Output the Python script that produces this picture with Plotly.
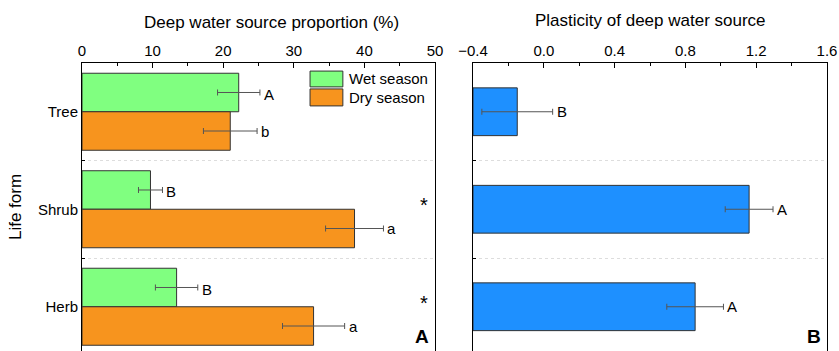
import plotly.graph_objects as go

# ---- data ----
life_forms = ["Tree", "Shrub", "Herb"]
wet_prop = [22.2, 9.7, 13.4]
wet_se = [3.0, 1.7, 3.0]
dry_prop = [21.0, 38.6, 32.8]
dry_se = [3.8, 4.1, 4.4]
wet_letters = ["A", "B", "B"]
dry_letters = ["b", "a", "a"]
sig_marks = ["", "*", "*"]

plasticity = [-0.15, 1.16, 0.855]
plasticity_se = [0.2, 0.135, 0.16]
plasticity_letters = ["B", "A", "A"]
plasticity_base = -0.4

season_names = ["Wet season", "Dry season"]
x1_ticks = [0, 10, 20, 30, 40, 50]
x2_ticks = [-0.4, 0.0, 0.4, 0.8, 1.2, 1.6]

FONT = "Arial, Liberation Sans, sans-serif"
GREEN = "#80FF80"
ORANGE = "#F7941E"
BLUE = "#1E90FF"
EDGE = "#333333"
ERR = "#555555"

W, H = 839, 351
TOP = 63
domA = [82 / W, 435 / W]
domB = [473 / W, 827 / W]
band = 97.5
plot_h = H - TOP
y_range = [-0.5 + plot_h / band, -0.5]

fig = go.Figure()

fig.add_trace(go.Bar(
    y=life_forms, x=wet_prop, orientation="h", name=season_names[0],
    marker=dict(color=GREEN, line=dict(color=EDGE, width=1)),
    error_x=dict(type="data", array=wet_se, color=ERR, thickness=1, width=3),
    xaxis="x", yaxis="y", showlegend=False, offsetgroup="wet"))
fig.add_trace(go.Bar(
    y=life_forms, x=dry_prop, orientation="h", name=season_names[1],
    marker=dict(color=ORANGE, line=dict(color=EDGE, width=1)),
    error_x=dict(type="data", array=dry_se, color=ERR, thickness=1, width=3),
    xaxis="x", yaxis="y", showlegend=False, offsetgroup="dry"))

fig.add_trace(go.Bar(
    y=life_forms, x=[v - plasticity_base for v in plasticity], base=plasticity_base,
    orientation="h", width=0.49, name="Plasticity",
    marker=dict(color=BLUE, line=dict(color=EDGE, width=1)),
    error_x=dict(type="data", array=plasticity_se, color=ERR, thickness=1, width=3),
    xaxis="x2", yaxis="y2", showlegend=False))

common_x = dict(side="top", showline=True, linecolor="black", linewidth=1,
                ticks="inside", ticklen=5, tickcolor="black", showgrid=False,
                zeroline=False, automargin=False,
                tickfont=dict(size=15, family=FONT, color="black"))
common_y = dict(type="category", categoryarray=life_forms, range=y_range,
                showline=True, linecolor="black", linewidth=1, mirror=True,
                ticks="inside", ticklen=3, tickcolor="black", tickson="boundaries",
                showgrid=True, gridcolor="#dddddd", griddash="dot", gridwidth=1,
                automargin=False,
                tickfont=dict(size=15, family=FONT, color="black"))

fig.update_layout(
    width=W, height=H,
    margin=dict(l=0, r=0, t=TOP, b=0),
    paper_bgcolor="white", plot_bgcolor="white",
    barmode="group", bargap=0.21, bargroupgap=0,
    font=dict(family=FONT, color="black"),
    xaxis=dict(domain=domA, range=[0, 50], tickvals=x1_ticks, anchor="y",
               minor=dict(dtick=5, ticks="inside", ticklen=3, tickcolor="black"),
               **common_x),
    xaxis2=dict(domain=domB, range=[-0.4, 1.6], tickvals=x2_ticks, tickformat=".1f",
                anchor="y2",
                minor=dict(dtick=0.2, tick0=0, ticks="inside", ticklen=3, tickcolor="black"),
                **common_x),
    yaxis=dict(anchor="x", showticklabels=True,
               title=dict(text="Life form", font=dict(size=17, family=FONT), standoff=12),
               **common_y),
    yaxis2=dict(anchor="x2", showticklabels=False, **common_y),
)

ann = []
# x titles
ann.append(dict(text="Deep water source proportion (%)", xref="x domain", yref="paper",
                x=0.538, y=1, yshift=41, xanchor="center", yanchor="middle",
                showarrow=False, font=dict(size=17, family=FONT)))
ann.append(dict(text="Plasticity of deep water source", xref="x2 domain", yref="paper",
                x=0.5, y=1, yshift=43, xanchor="center", yanchor="middle",
                showarrow=False, font=dict(size=17, family=FONT)))

# letters panel A
off = 0.79 / 4 * band
for lf, v, s, t in zip(life_forms, wet_prop, wet_se, wet_letters):
    ann.append(dict(text=t, x=v + s, y=lf, xref="x", yref="y", xanchor="left",
                    yanchor="middle", xshift=2, yshift=off - 2, showarrow=False,
                    font=dict(size=15, family=FONT)))
for lf, v, s, t in zip(life_forms, dry_prop, dry_se, dry_letters):
    ann.append(dict(text=t, x=v + s, y=lf, xref="x", yref="y", xanchor="left",
                    yanchor="middle", xshift=2, yshift=-off, showarrow=False,
                    font=dict(size=15, family=FONT)))
for lf, m in zip(life_forms, sig_marks):
    if m:
        ann.append(dict(text=m, x=0.97, y=lf, xref="x domain", yref="y",
                        xanchor="center", yanchor="middle", yshift=4, showarrow=False,
                        font=dict(size=20, family=FONT)))
# letters panel B
for lf, v, s, t in zip(life_forms, plasticity, plasticity_se, plasticity_letters):
    ann.append(dict(text=t, x=v + s, y=lf, xref="x2", yref="y2", xanchor="left",
                    yanchor="middle", xshift=2, showarrow=False,
                    font=dict(size=15, family=FONT)))

# panel labels
ann.append(dict(text="<b>A</b>", x=1, y=0, xref="x domain", yref="y domain",
                xanchor="right", yanchor="bottom", xshift=-4, yshift=2,
                showarrow=False, font=dict(size=19, family=FONT)))
ann.append(dict(text="<b>B</b>", x=1, y=0, xref="x2 domain", yref="y2 domain",
                xanchor="right", yanchor="bottom", xshift=-4, yshift=2,
                showarrow=False, font=dict(size=19, family=FONT)))

# custom legend
shapes = []
leg = [(season_names[0], GREEN, 0.972, 0.917), (season_names[1], ORANGE, 0.910, 0.851)]
for name, col, y1, y0 in leg:
    shapes.append(dict(type="rect", xref="x domain", yref="y domain",
                       x0=0.646, x1=0.739, y0=y0, y1=y1,
                       fillcolor=col, line=dict(color=EDGE, width=1)))
    ann.append(dict(text=name, xref="x domain", yref="y domain",
                    x=0.752, y=(y0 + y1) / 2, xanchor="left", yanchor="middle",
                    showarrow=False, font=dict(size=15, family=FONT)))

fig.update_layout(annotations=ann, shapes=shapes)
fig.write_html("out.html", config={"displayModeBar": False},
               post_script="document.body.style.margin='0';document.body.style.overflow='hidden';")
